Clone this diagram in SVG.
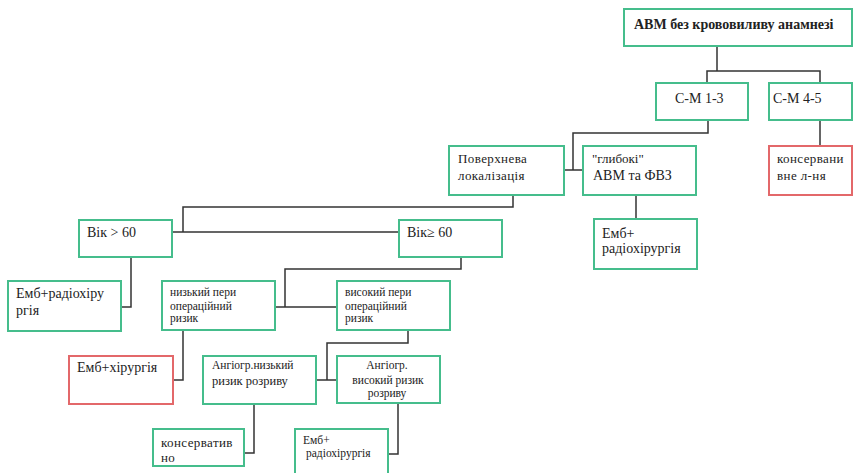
<svg xmlns="http://www.w3.org/2000/svg" width="856" height="473" viewBox="0 0 856 473" font-family="'Liberation Serif', 'Times New Roman', 'DejaVu Serif', serif">
<style>
.g{fill:#fff;stroke:#45bd8c;stroke-width:2}
.r{fill:#fff;stroke:#e3686a;stroke-width:2}
.c{fill:none;stroke:#333;stroke-width:1.5}
text{font-family:'Liberation Serif','Times New Roman','DejaVu Serif',serif;fill:#222;font-size:14px}
.b{font-weight:bold;font-size:14px}
.s{font-size:11.5px}
.sp{letter-spacing:0.4px;font-size:13px}
.m{text-anchor:middle}
</style>
<rect width="856" height="473" fill="#fff"/>
<g id="connectors">
<path class="c" d="M717 46V71M707 83V71H820V83"/>
<path class="c" d="M820 120V146"/>
<path class="c" d="M708 120V133H573V170M564 170H583"/>
<path class="c" d="M636 195V219"/>
<path class="c" d="M513 195V207H183V232M172 232H399"/>
<path class="c" d="M131 257V307H121"/>
<path class="c" d="M461 257V269H285V307M275 307H337"/>
<path class="c" d="M183 330V380H173"/>
<path class="c" d="M408 330V343H327V380M316 380H337"/>
<path class="c" d="M254 404V453H245"/>
<path class="c" d="M398 403V454H388"/>
</g>
<g id="n1"><rect class="g" x="624" y="9" width="228" height="37"/><text class="b" x="634" y="29">АВМ без крововиливу  анамнезі</text></g>
<g id="n2"><rect class="g" x="656" y="83" width="92" height="37"/><text x="675" y="103">С-М 1-3</text></g>
<g id="n3"><rect class="g" x="769" y="83" width="83" height="37"/><text x="773" y="103">С-М 4-5</text></g>
<g id="n4"><rect class="g" x="449" y="146" width="115" height="49"/><text class="sp" x="458" y="163">Поверхнева</text><text class="sp" x="458" y="180">локалізація</text></g>
<g id="n5"><rect class="g" x="583" y="146" width="113" height="49"/><text x="592" y="163" style="font-size:13px">"глибокі"</text><text x="593" y="180">АВМ та ФВЗ</text></g>
<g id="n6"><rect class="r" x="769" y="146" width="83" height="49"/><text class="sp" x="777" y="163">консервани</text><text class="sp" x="777" y="180">вне л-ня</text></g>
<g id="n7"><rect class="g" x="594" y="219" width="103" height="50"/><text x="602" y="238">Емб+</text><text x="602" y="253">радіохірургія</text></g>
<g id="n8"><rect class="g" x="79" y="220" width="93" height="37"/><text x="87" y="237">Вік &gt; 60</text></g>
<g id="n9"><rect class="g" x="399" y="220" width="103" height="37"/><text x="407" y="237">Вік≥ 60</text></g>
<g id="n10"><rect class="g" x="8" y="281" width="113" height="50"/><text x="16" y="298">Емб+радіохіру</text><text x="16" y="315">ргія</text></g>
<g id="n11"><rect class="g" x="162" y="281" width="113" height="49"/><text class="s" x="170" y="296">низький пери</text><text class="s" x="170" y="310">операційний</text><text class="s" x="170" y="322">ризик</text></g>
<g id="n12"><rect class="g" x="337" y="281" width="113" height="49"/><text class="s" x="345" y="296">високий пери</text><text class="s" x="345" y="310">операційний</text><text class="s" x="345" y="322">ризик</text></g>
<g id="n13"><rect class="r" x="69" y="356" width="104" height="48"/><text x="77" y="372">Емб+хірургія</text></g>
<g id="n14"><rect class="g" x="203" y="356" width="113" height="48"/><text class="s" x="212" y="369">Ангіогр.низький</text><text class="s" x="212" y="385" style="font-size:12.5px">ризик розриву</text></g>
<g id="n15"><rect class="g" x="337" y="356" width="103" height="47"/><text class="s m" x="387" y="369">Ангіогр.</text><text class="s m" x="388" y="384">високий ризик</text><text class="s m" x="387" y="397">розриву</text></g>
<g id="n16"><rect class="g" x="153" y="429" width="91" height="37"/><text class="sp" x="161" y="447">консерватив</text><text class="sp" x="161" y="462">но</text></g>
<g id="n17"><rect class="g" x="295" y="429" width="93" height="50"/><text class="s" x="303" y="444">Емб+</text><text class="s" x="306" y="457">радіохірургія</text></g>
</svg>
